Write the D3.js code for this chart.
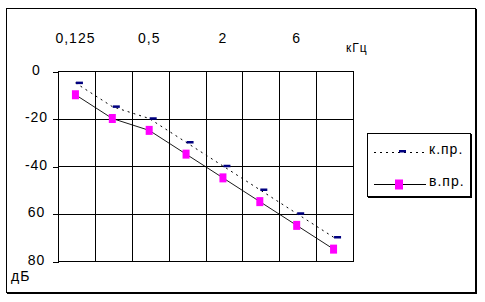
<!DOCTYPE html>
<html lang="ru">
  <head>
    <meta charset="UTF-8" />
    <title>Аудиограмма</title>
    <script src="https://d3js.org/d3.v7.min.js"></script>
    <style>
      body {
        margin: 0;
        background: #fff;
      }
      svg text {
        font-family: "Liberation Sans", Arial, sans-serif;
        font-size: 14px;
        letter-spacing: 1px;
        fill: #000;
      }
      .grid line {
        stroke: #000;
        stroke-width: 1px;
        shape-rendering: crispEdges;
      }
    </style>
  </head>
  <body>
    <svg width="485" height="302"></svg>

    <script>
      // частоты (кГц), подписи показаны через одну
      const categories = ["0,125", "0,25", "0,5", "1", "2", "4", "6", "8"];
      const shownLabels = ["0,125", "0,5", "2", "6"];
      // костная проводимость
      const bone = [5, 15, 20, 30, 40, 50, 60, 70];
      // воздушная проводимость
      const air = [10, 20, 25, 35, 45, 55, 65, 75];
      const yTicks = [0, 20, 40, 60, 80];
      const yTickLabels = ["0", "-20", "-40", "60", "80"];

      const svg = d3.select("svg");

      // рамка всей диаграммы (с тенью справа и снизу)
      svg.append("rect")
        .attr("x", 6.5).attr("y", 8.5)
        .attr("width", 469).attr("height", 284)
        .attr("fill", "none").attr("stroke", "#000");
      svg.append("path")
        .attr("d", "M476.5,9V294M7,293.5H477")
        .attr("stroke", "#000").attr("fill", "none");

      const x = d3.scaleBand().domain(categories).range([58, 353]);
      const y = d3.scaleLinear().domain([0, 80]).range([71, 261]);
      const px = (i) => x(categories[i]) + x.bandwidth() / 2 - 1;

      // сетка
      const grid = svg.append("g").attr("class", "grid");
      grid.selectAll(".h")
        .data(yTicks)
        .join("line")
        .attr("x1", 58).attr("x2", 353)
        .attr("y1", (d) => Math.round(y(d)) + 0.5)
        .attr("y2", (d) => Math.round(y(d)) + 0.5);
      grid.selectAll(".v")
        .data(categories.concat(["end"]))
        .join("line")
        .attr("x1", (d, i) => Math.round(i < categories.length ? x(d) : x.range()[1]) + 0.5)
        .attr("x2", (d, i) => Math.round(i < categories.length ? x(d) : x.range()[1]) + 0.5)
        .attr("y1", 71).attr("y2", 261.5);

      // ось Y
      const yAxis = svg.append("g")
        .attr("transform", "translate(58.5,0.5)")
        .call(
          d3.axisLeft(y)
            .tickValues(yTicks)
            .tickSize(6)
            .tickFormat((d, i) => yTickLabels[i])
        );
      yAxis.select(".domain").remove();
      yAxis.selectAll(".tick line").attr("stroke", "#000").attr("shape-rendering", "crispEdges");
      yAxis.selectAll(".tick text")
        .attr("x", -22)
        .attr("dy", "0.2em")
        .attr("text-anchor", "middle")
        .style("font-family", null)
        .style("font-size", null)
        .attr("font-family", null)
        .attr("font-size", null);

      // ось X (сверху)
      const xAxis = svg.append("g")
        .attr("transform", "translate(-1,71)")
        .call(
          d3.axisTop(x)
            .tickSize(0)
            .tickPadding(28)
            .tickFormat((d) => (shownLabels.includes(d) ? d : ""))
        );
      xAxis.select(".domain").remove();
      xAxis.attr("font-family", null).attr("font-size", null);
      yAxis.attr("font-family", null).attr("font-size", null);

      svg.append("text")
        .attr("x", 346).attr("y", 51.5)
        .style("font-size", "12px")
        .text("кГц");
      svg.append("text")
        .attr("x", 11).attr("y", 281)
        .text("дБ");

      // линии
      const line = d3.line()
        .x((d, i) => px(i))
        .y((d) => y(d));

      svg.append("path")
        .datum(bone)
        .attr("d", line)
        .attr("fill", "none")
        .attr("stroke", "#000")
        .attr("stroke-width", 1)
        .attr("stroke-dasharray", "2,4");

      svg.append("path")
        .datum(air)
        .attr("d", line)
        .attr("fill", "none")
        .attr("stroke", "#000")
        .attr("stroke-width", 0.9);

      // маркеры
      svg.selectAll(".bone")
        .data(bone)
        .join("rect")
        .attr("x", (d, i) => px(i) + 0.5)
        .attr("y", (d) => y(d) - 1.25)
        .attr("width", 7)
        .attr("height", 2.5)
        .attr("fill", "#000080");

      svg.selectAll(".air")
        .data(air)
        .join("rect")
        .attr("x", (d, i) => px(i) - 3.5)
        .attr("y", (d) => y(d) - 4.5)
        .attr("width", 7)
        .attr("height", 9)
        .attr("fill", "#ff00ff");

      // легенда
      const legend = svg.append("g");
      legend.append("rect")
        .attr("x", 367.5).attr("y", 133.5)
        .attr("width", 103).attr("height", 63)
        .attr("fill", "#fff").attr("stroke", "#000");
      legend.append("path")
        .attr("d", "M471.5,134V198M368,197.5H472")
        .attr("stroke", "#000").attr("fill", "none");

      legend.append("line")
        .attr("x1", 374).attr("x2", 424)
        .attr("y1", 152.5).attr("y2", 152.5)
        .attr("stroke", "#000")
        .attr("stroke-dasharray", "2,4");
      legend.append("rect")
        .attr("x", 399).attr("y", 150).attr("width", 7).attr("height", 2.5)
        .attr("fill", "#000080");
      legend.append("text").attr("x", 429).attr("y", 154).text("к.пр.");

      legend.append("line")
        .attr("x1", 374).attr("x2", 426)
        .attr("y1", 184.5).attr("y2", 184.5)
        .attr("stroke", "#000");
      legend.append("rect")
        .attr("x", 395).attr("y", 179.5).attr("width", 8).attr("height", 10)
        .attr("fill", "#ff00ff");
      legend.append("text").attr("x", 429).attr("y", 185.5).text("в.пр.");
    </script>
  </body>
</html>
